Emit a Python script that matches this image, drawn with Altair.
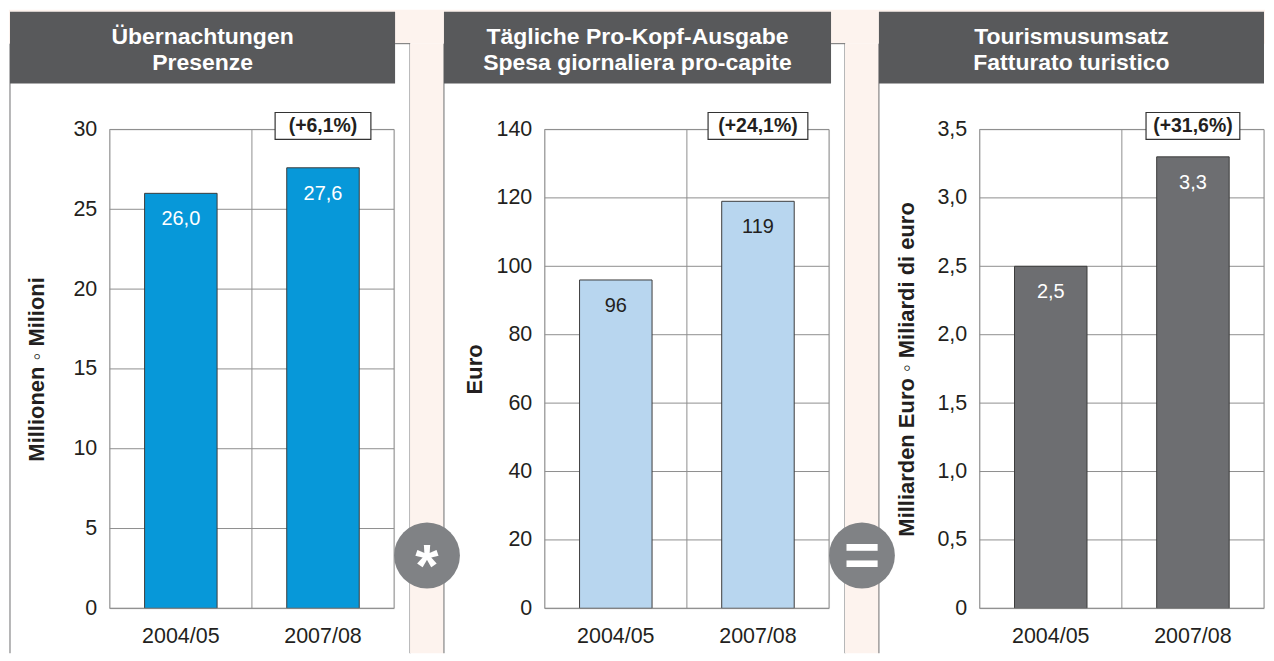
import altair as alt
import pandas as pd

# ---------------- data ----------------
periods = ["2004/05", "2007/08"]

nights_values = [26.0, 27.6]
nights_labels = ["26,0", "27,6"]
nights_ticks = [0, 5, 10, 15, 20, 25, 30]
nights_change = "(+6,1%)"

spend_values = [96, 119]
spend_labels = ["96", "119"]
spend_ticks = [0, 20, 40, 60, 80, 100, 120, 140]
spend_change = "(+24,1%)"

turnover_values = [2.5, 3.3]
turnover_labels = ["2,5", "3,3"]
turnover_ticks = [0, 0.5, 1.0, 1.5, 2.0, 2.5, 3.0, 3.5]
turnover_change = "(+31,6%)"

titles = [
    ["Übernachtungen", "Presenze"],
    ["Tägliche Pro-Kopf-Ausgabe", "Spesa giornaliera pro-capite"],
    ["Tourismusumsatz", "Fatturato turistico"],
]
ytitles = ["Millionen ◦ Milioni", "Euro", "Milliarden Euro ◦ Miliardi di euro"]

# ---------------- style ----------------
FONT = "Liberation Sans"
W, H = 285, 480
PINK = "#fdf3ee"
HEADER = "#58595b"
TXT = "#231f20"
GRID = "#8f8f8f"
BORDER = "#6d6e70"
CIRCLE = "#808285"

one = alt.Data(values=[{"k": 1}])


def deco_rect(x, x2, y, y2, **kw):
    return alt.Chart(one).mark_rect(**kw).encode(
        x=alt.value(x), x2=alt.value(x2), y=alt.value(y), y2=alt.value(y2))


def vline(x, y, y2):
    return alt.Chart(one).mark_rule(color=BORDER, strokeWidth=1).encode(
        x=alt.value(x), y=alt.value(y), y2=alt.value(y2))


def hline(x, x2, y):
    return alt.Chart(one).mark_rule(color=BORDER, strokeWidth=1).encode(
        x=alt.value(x), x2=alt.value(x2), y=alt.value(y))


def panel(values, labels, ticks, change, title, ytitle, bar_color, label_color,
          label_expr, white_l, white_r, head_r, show_right, title_pad, box_w,
          pre=None, op=None):
    df = pd.DataFrame({"period": periods, "value": values, "label": labels})
    gdf = pd.DataFrame({"value": ticks})
    cdf = pd.DataFrame({"period": [periods[1]], "txt": [change]})

    yscale = alt.Scale(domain=[ticks[0], ticks[-1]], nice=False, zero=True)
    xscale = alt.Scale(domain=periods, paddingInner=0.49, paddingOuter=0.245)
    xaxis = alt.Axis(title=None, labelFontSize=21.5, labelColor=TXT,
                     labelFont=FONT, labelAngle=0, ticks=False, tickSize=0,
                     domain=False, grid=False, labelPadding=17, zindex=1)
    yaxis = alt.Axis(title=ytitle, values=ticks, labelExpr=label_expr,
                     labelFontSize=21.5, labelColor=TXT, labelFont=FONT,
                     ticks=False, tickSize=0, domain=False, grid=False,
                     labelPadding=13, titleFont=FONT, titleFontSize=22,
                     titleFontWeight="bold", titleColor=TXT,
                     titlePadding=title_pad, zindex=1)
    X = alt.X("period:N", scale=xscale, sort=periods, axis=xaxis)
    Y = alt.Y("value:Q", scale=yscale, axis=yaxis)

    layers = list(pre or [])
    # panel borders
    layers.append(vline(white_l, -86, 525))
    if show_right:
        layers.append(vline(white_r, -86, 525))
        layers.append(hline(head_r, white_r, -86))
    # header
    layers.append(deco_rect(white_l, head_r, -118, -46, fill=HEADER))
    cx = (white_l + head_r) / 2
    for i, line in enumerate(title):
        layers.append(alt.Chart(one).mark_text(
            font=FONT, fontSize=23, fontWeight="bold", color="white",
            baseline="middle", align="center").encode(
            x=alt.value(cx), y=alt.value(-93 + 26 * i), text=alt.value(line)))
    # horizontal grid
    layers.append(alt.Chart(gdf).mark_rule(color=GRID, strokeWidth=1).encode(y=Y))
    # vertical grid between categories
    layers.append(alt.Chart(one).mark_rule(color=GRID, strokeWidth=1).encode(
        x=alt.value(W / 2), y=alt.value(0), y2=alt.value(H)))
    # bars
    layers.append(alt.Chart(df).mark_bar(
        color=bar_color, stroke="#3c3c3c", strokeWidth=1).encode(x=X, y=Y))
    # value labels
    layers.append(alt.Chart(df).mark_text(
        font=FONT, fontSize=20, color=label_color, baseline="middle",
        dy=26).encode(x=X, y=Y, text="label:N"))
    # plot box
    layers.append(deco_rect(0, W, 0, H, fillOpacity=0, stroke=GRID, strokeWidth=1))
    # change box
    layers.append(alt.Chart(cdf).mark_bar(
        width=box_w, fill="white", stroke="#333333", strokeWidth=1.2).encode(
        x=X, y=alt.value(-17), y2=alt.value(10)))
    layers.append(alt.Chart(cdf).mark_text(
        font=FONT, fontSize=19.5, fontWeight="bold", color=TXT,
        baseline="middle").encode(x=X, y=alt.value(-3), text="txt:N"))
    # operator circle
    if op is not None:
        sym, ox = op
        layers.append(alt.Chart(one).mark_point(
            shape="circle", filled=True, size=4356, color=CIRCLE,
            opacity=1).encode(x=alt.value(ox), y=alt.value(427)))
        if sym == "*":
            layers.append(alt.Chart(one).mark_text(
                font=FONT, fontSize=60, fontWeight="bold", color="white",
                baseline="middle", align="center", dy=13).encode(
                x=alt.value(ox), y=alt.value(427), text=alt.value(sym)))
        else:
            layers.append(alt.Chart(one).mark_text(
                font=FONT, fontSize=62, fontWeight="bold", color="white",
                baseline="middle", align="center", dy=2).encode(
                x=alt.value(ox), y=alt.value(427), text=alt.value(sym)))

    return alt.layer(*layers).properties(width=W, height=H)


comma_expr = "datum.value == 0 ? '0' : replace(format(datum.value, '.1f'), '.', ',')"

# pink page areas (decoration; white is the chart background)
top_strip = deco_rect(-101, 1158, -120, -86, fill=PINK)
gap2 = deco_rect(-135, -101, -86, 525, fill=PINK)
gap3 = deco_rect(-135, -101, -86, 525, fill=PINK)

p1 = panel(nights_values, nights_labels, nights_ticks, nights_change, titles[0],
           ytitles[0], "#0798d9", "white", "datum.label",
           -100, 301, 286, True, 24, 96, pre=[top_strip])
p2 = panel(spend_values, spend_labels, spend_ticks, spend_change, titles[1],
           ytitles[1], "#b8d6ef", TXT, "datum.label",
           -101, 301, 287, True, 9, 100, pre=[gap2], op=("*", -118))
p3 = panel(turnover_values, turnover_labels, turnover_ticks, turnover_change,
           titles[2], ytitles[2], "#6d6e71", "white", comma_expr,
           -101, 285, 285, False, 18, 94, pre=[gap3], op=("=", -118))

chart = alt.hconcat(p1, p2, p3, spacing=151, bounds="flush").properties(
    background="white",
    padding={"left": 0, "top": 0, "right": 0, "bottom": 0},
).configure_view(stroke=None).configure(font=FONT)

chart.save("out.html", embed_options={"renderer": "svg", "actions": False})
